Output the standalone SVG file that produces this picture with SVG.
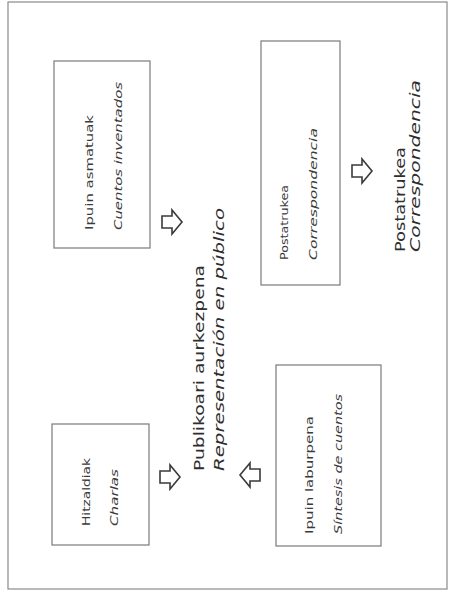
<svg xmlns="http://www.w3.org/2000/svg" width="449" height="596" viewBox="0 0 449 596">
<style>
.frame{fill:none;stroke:#8a8a8a;stroke-width:1.2}
.box{fill:#ffffff;stroke:#7a7a7a;stroke-width:1.2}
.t{font-family:"DejaVu Sans","Liberation Sans",sans-serif;fill:#3a3a3a;font-size:10px}
.it{font-style:italic}
.big{font-size:13.5px;fill:#2e2e2e}
.arr{fill:#ffffff;stroke:#3a3a3a;stroke-width:1.6;stroke-linejoin:miter}
</style>
<defs>
<path id="arrow" class="arr" d="M-10,-6 H0 V-12 L10,0 L0,12 V6 H-10 Z"/>
</defs>
<rect width="449" height="596" fill="#ffffff"/>
<rect class="frame" x="8" y="2" width="439" height="587"/>

<g id="ipuin-asmatuak">
<rect class="box" x="54" y="61" width="96" height="187"/>
<text class="t" transform="translate(92.5,230) rotate(-90)" textLength="115" lengthAdjust="spacingAndGlyphs">Ipuin asmatuak</text>
<text class="t it" transform="translate(122,230) rotate(-90)" textLength="148" lengthAdjust="spacingAndGlyphs">Cuentos inventados</text>
</g>

<g id="postatrukea-box">
<rect class="box" x="261" y="41" width="79" height="244"/>
<text class="t" transform="translate(288,260) rotate(-90)" textLength="75" lengthAdjust="spacingAndGlyphs">Postatrukea</text>
<text class="t it" transform="translate(317,260) rotate(-90)" textLength="132" lengthAdjust="spacingAndGlyphs">Correspondencia</text>
</g>

<g id="hitzaldiak">
<rect class="box" x="52" y="424" width="97" height="121"/>
<text class="t" transform="translate(90,526) rotate(-90)" textLength="68" lengthAdjust="spacingAndGlyphs">Hitzaldiak</text>
<text class="t it" transform="translate(118,526) rotate(-90)" textLength="57" lengthAdjust="spacingAndGlyphs">Charlas</text>
</g>

<g id="ipuin-laburpena">
<rect class="box" x="276" y="365" width="105" height="181"/>
<text class="t" transform="translate(313,534) rotate(-90)" textLength="118" lengthAdjust="spacingAndGlyphs">Ipuin laburpena</text>
<text class="t it" transform="translate(342,534) rotate(-90)" textLength="140" lengthAdjust="spacingAndGlyphs">Síntesis de cuentos</text>
</g>

<g id="publikoari">
<text class="t big" transform="translate(204,471) rotate(-90)" textLength="206" lengthAdjust="spacingAndGlyphs">Publikoari aurkezpena</text>
<text class="t big it" transform="translate(224,471) rotate(-90)" textLength="263" lengthAdjust="spacingAndGlyphs">Representación en público</text>
</g>

<g id="postatrukea-out">
<text class="t big" transform="translate(405,252) rotate(-90)" textLength="105" lengthAdjust="spacingAndGlyphs">Postatrukea</text>
<text class="t big it" transform="translate(420,252) rotate(-90)" textLength="172" lengthAdjust="spacingAndGlyphs">Correspondencia</text>
</g>

<g id="connectors">
<use href="#arrow" transform="translate(172,222)"/>
<use href="#arrow" transform="translate(362,171)"/>
<use href="#arrow" transform="translate(170,477)"/>
<use href="#arrow" transform="translate(250,475) rotate(180)"/>
</g>
</svg>
